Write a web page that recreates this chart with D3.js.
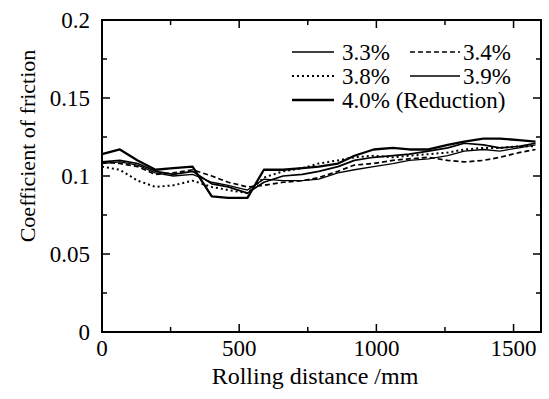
<!DOCTYPE html>
<html><head><meta charset="utf-8">
<script src="https://cdn.jsdelivr.net/npm/d3@7"></script>
</head><body style="margin:0"><svg id="c" width="549" height="399"></svg>
<script>
const distance = [0,65,130,195,260,330,400,460,530,590,660,730,790,860,920,990,1060,1120,1190,1260,1320,1390,1450,1520,1580];
const r33 = [0.108,0.109,0.107,0.102,0.100,0.101,0.096,0.094,0.091,0.098,0.097,0.097,0.098,0.102,0.104,0.106,0.108,0.110,0.111,0.113,0.116,0.117,0.116,0.118,0.120];
const r34 = [0.109,0.108,0.106,0.101,0.102,0.104,0.100,0.096,0.093,0.094,0.096,0.097,0.099,0.103,0.107,0.108,0.110,0.111,0.112,0.110,0.109,0.110,0.112,0.115,0.117];
const r38 = [0.106,0.104,0.097,0.093,0.094,0.097,0.093,0.091,0.089,0.099,0.103,0.105,0.108,0.110,0.112,0.113,0.112,0.113,0.114,0.115,0.117,0.118,0.118,0.119,0.119];
const r39 = [0.109,0.110,0.108,0.103,0.101,0.103,0.095,0.093,0.089,0.096,0.100,0.101,0.103,0.106,0.110,0.112,0.113,0.114,0.116,0.118,0.121,0.120,0.118,0.119,0.121];
const r40 = [0.114,0.117,0.110,0.104,0.105,0.106,0.087,0.086,0.086,0.104,0.104,0.105,0.106,0.108,0.113,0.117,0.118,0.117,0.117,0.120,0.122,0.124,0.124,0.123,0.122];
const seriesNames = ["3.3%","3.4%","3.8%","3.9%","4.0% (Reduction)"];
const xTicks = [0,500,1000,1500];
const yTicks = [0,0.05,0.1,0.15,0.2];
const yTickLabels = ["0","0.05","0.1","0.15","0.2"];

const FONT = "Nimbus Roman";
const svg = d3.select("#c");
const L=102,R=541,T=20,B=332;
const x = d3.scaleLinear().domain([0,1600]).range([L,R]);
const y = d3.scaleLinear().domain([0,0.2]).range([B,T]);

const styles = [
  {w:1.3,dash:null},
  {w:1.7,dash:"5,3"},
  {w:2,dash:"2,3"},
  {w:1.7,dash:null},
  {w:2.3,dash:null}
];
const all=[r33,r34,r38,r39,r40];
const line = d3.line().x((d,i)=>x(distance[i])).y(d=>y(d));
all.forEach((s,k)=>{
  svg.append("path").datum(s).attr("d",line).attr("fill","none").attr("stroke","#000")
    .attr("stroke-width",styles[k].w).attr("stroke-dasharray",styles[k].dash)
    .attr("stroke-linejoin","round");
});

svg.append("rect").attr("x",L).attr("y",T).attr("width",R-L).attr("height",B-T)
  .attr("fill","none").attr("stroke","#000").attr("stroke-width",2);

const xMinor = d3.range(0,1601,250);
const yMinor = d3.range(0,0.2001,0.025);
const g = svg.append("g").attr("stroke","#000").attr("stroke-width",1.5);
xMinor.forEach(v=>{
  const len = (v%500===0)?8:5;
  g.append("line").attr("x1",x(v)).attr("x2",x(v)).attr("y1",B).attr("y2",B-len);
  g.append("line").attr("x1",x(v)).attr("x2",x(v)).attr("y1",T).attr("y2",T+len);
});
yMinor.forEach((v,i)=>{
  const len = (i%2===0)?8:5;
  g.append("line").attr("y1",y(v)).attr("y2",y(v)).attr("x1",L).attr("x2",L+len);
  g.append("line").attr("y1",y(v)).attr("y2",y(v)).attr("x1",R).attr("x2",R-len);
});

function label(px,py,size,anchor,str){
  return svg.append("text").attr("font-size",size).style("font-family",FONT)
    .attr("transform",`translate(${px},${py}) rotate(0.01)`)
    .attr("text-anchor",anchor).attr("fill","#000").text(str);
}

xTicks.forEach(d=>label(x(d),356,23,"middle",d));
yTicks.forEach((d,i)=>label(90,y(d)+8,23,"end",yTickLabels[i]));

label(315,384,24,"middle","Rolling distance /mm");
svg.append("text").attr("font-size",22).style("font-family",FONT).attr("transform","translate(35,146) rotate(-90)").attr("text-anchor","middle").text("Coefficient of friction");

const leg = [
  {k:0,x1:292,x2:334,tx:342,ty:52},
  {k:1,x1:410,x2:460,tx:463,ty:52},
  {k:2,x1:292,x2:334,tx:342,ty:76},
  {k:3,x1:410,x2:460,tx:463,ty:76},
  {k:4,x1:292,x2:334,tx:342,ty:100}
];
leg.forEach(o=>{
  svg.append("line").attr("x1",o.x1).attr("x2",o.x2).attr("y1",o.ty).attr("y2",o.ty)
    .attr("stroke","#000").attr("stroke-width",styles[o.k].w).attr("stroke-dasharray",styles[o.k].dash);
  label(o.tx,o.ty+8,23,"start",seriesNames[o.k]);
});
</script></body></html>
